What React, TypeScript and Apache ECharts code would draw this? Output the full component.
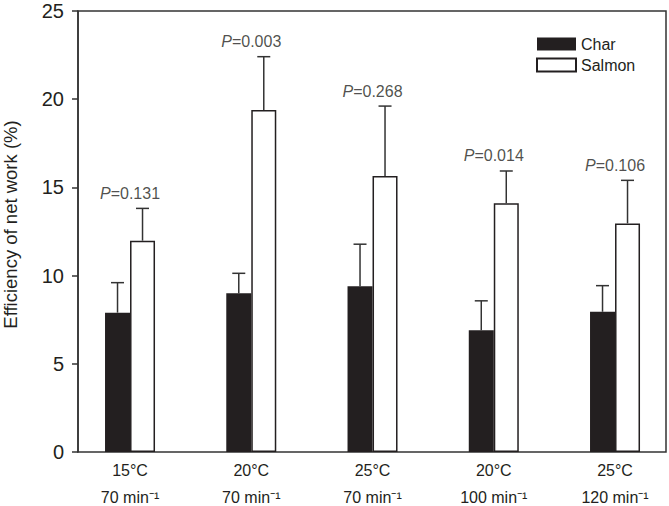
import React, { useEffect, useRef } from 'react';
import * as echarts from 'echarts';

const temps = ['15°C', '20°C', '25°C', '20°C', '25°C'];
const rates = ['70', '70', '70', '100', '120'];
const charMean = [7.9, 9.0, 9.4, 6.9, 7.95];
const charErr = [1.7, 1.13, 2.38, 1.67, 1.48];
const salmonMean = [11.98, 19.39, 15.65, 14.1, 12.96];
const salmonErr = [1.83, 3.02, 3.96, 1.83, 2.44];
const pValues = ['0.131', '0.003', '0.268', '0.014', '0.106'];
const yMin = 0;
const yMax = 25;
const yStep = 5;

const FONT = '"Liberation Sans", Arial, Helvetica, sans-serif';
const INK = '#231f20';

function errSeries(name: string, means: number[], errs: number[], shift: number) {
  return {
    type: 'custom',
    name: name + ' SE',
    xAxisIndex: 1,
    yAxisIndex: 1,
    z: 5,
    silent: true,
    data: means.map((m, i) => [i, m, m + errs[i]]),
    renderItem: (params: any, api: any) => {
      const base = api.coord([api.value(0), api.value(1)]);
      const top = api.coord([api.value(0), api.value(2)]);
      const x = base[0] + shift;
      return {
        type: 'group',
        children: [
          { type: 'line', shape: { x1: x, y1: base[1], x2: x, y2: top[1] }, style: { stroke: '#333', lineWidth: 1.5 } },
          { type: 'line', shape: { x1: x - 6.5, y1: top[1], x2: x + 6.5, y2: top[1] }, style: { stroke: '#333', lineWidth: 1.5 } },
        ],
      };
    },
  };
}

export default function App() {
  const ref = useRef<HTMLDivElement>(null);
  useEffect(() => {
    document.body.style.margin = '0';
    const chart = echarts.init(ref.current!, undefined, { renderer: 'svg' });
    const option: any = {
      animation: false,
      textStyle: { fontFamily: FONT, color: INK },
      grid: [
        { left: 78, right: 3, top: 11, bottom: 54, show: true, borderColor: '#333', borderWidth: 1.5, backgroundColor: 'transparent', containLabel: false, outerBoundsMode: 'none' },
        { left: 69.4, width: 606.25, top: 11, bottom: 54, containLabel: false, outerBoundsMode: 'none' },
      ],
      legend: {
        data: ['Char', 'Salmon'],
        orient: 'vertical',
        left: 531,
        top: 31,
        itemWidth: 39,
        itemHeight: 13,
        itemGap: 5,
        icon: 'rect',
        textStyle: { fontSize: 16, color: INK, fontFamily: FONT },
      },
      xAxis: [
        { type: 'value', gridIndex: 0, min: 0, max: 1, show: false },
        {
          type: 'category',
          gridIndex: 1,
          data: temps,
          axisLine: { show: false },
          axisTick: { show: false },
          axisLabel: {
            margin: 0,
            interval: 0,
            formatter: (v: string, i: number) => `{a|${v}}\n{b|${rates[i]} min⁻¹}`,
            rich: {
              a: { fontSize: 16, lineHeight: 37, color: INK, fontFamily: FONT },
              b: { fontSize: 16, lineHeight: 16, color: INK, fontFamily: FONT },
            },
          },
        },
      ],
      yAxis: [
        {
          type: 'value',
          gridIndex: 0,
          min: yMin,
          max: yMax,
          interval: yStep,
          name: 'Efficiency of net work (%)',
          nameLocation: 'middle',
          nameGap: 58,
          nameTextStyle: { fontSize: 18.5, color: INK, fontFamily: FONT, padding: [0, 0, 0, 14] },
          axisLine: { show: true, lineStyle: { color: '#333', width: 1.5 } },
          axisTick: { show: true, length: 6, lineStyle: { color: '#333', width: 1.5 } },
          axisLabel: { fontSize: 20, margin: 14, color: INK, fontFamily: FONT },
          splitLine: { show: false },
        },
        { type: 'value', gridIndex: 1, min: yMin, max: yMax, show: false, splitLine: { show: false } },
      ],
      series: [
        {
          name: 'Char',
          type: 'bar',
          xAxisIndex: 1,
          yAxisIndex: 1,
          barWidth: 25,
          barGap: '0%',
          data: charMean,
          itemStyle: { color: INK },
        },
        {
          name: 'Salmon',
          type: 'bar',
          xAxisIndex: 1,
          yAxisIndex: 1,
          barWidth: 25,
          barGap: '0%',
          data: salmonMean,
          itemStyle: { color: '#ffffff', borderColor: INK, borderWidth: 1.5 },
        },
        errSeries('Char', charMean, charErr, -12.5),
        errSeries('Salmon', salmonMean, salmonErr, 12.5),
        {
          type: 'scatter',
          xAxisIndex: 1,
          yAxisIndex: 1,
          symbolSize: 0,
          silent: true,
          data: salmonMean.map((m, i) => [i, m + salmonErr[i]]),
          label: {
            show: true,
            position: 'top',
            distance: 7,
            formatter: (p: any) => `{i|P}{n|=${pValues[p.dataIndex]}}`,
            rich: {
              i: { fontSize: 16, fontStyle: 'italic', color: INK, fontFamily: FONT },
              n: { fontSize: 16, color: INK, fontFamily: FONT },
            },
          },
        },
      ],
    };
    chart.setOption(option);
    return () => chart.dispose();
  }, []);
  return <div ref={ref} style={{ width: 669, height: 506 }} />;
}
